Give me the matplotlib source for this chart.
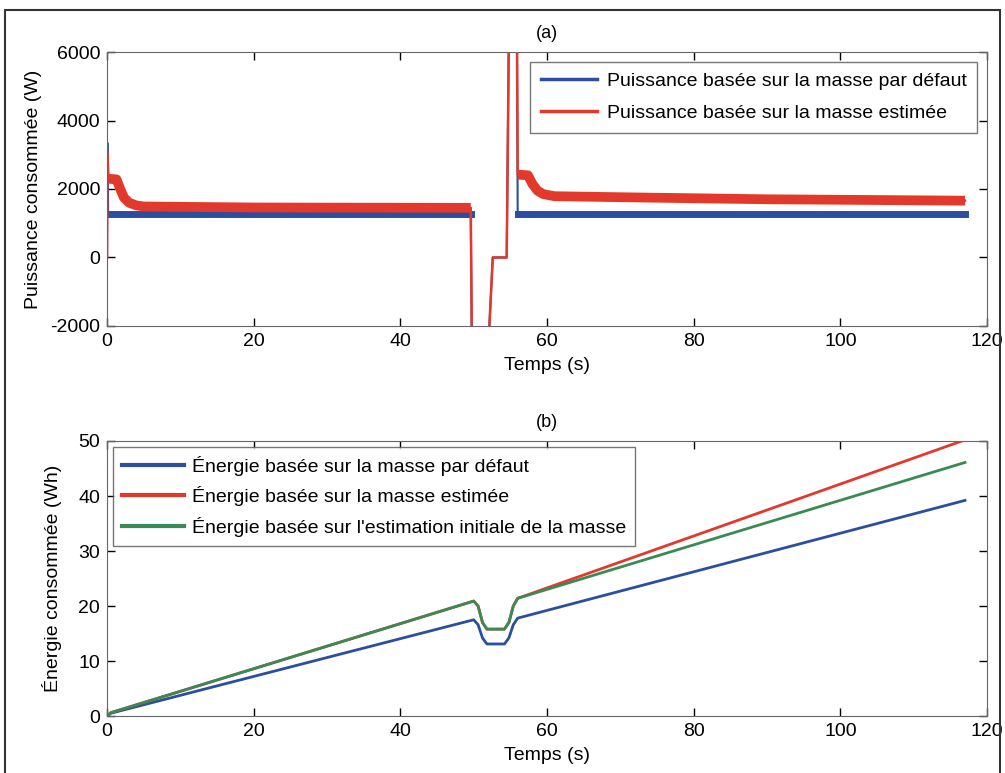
import matplotlib.pyplot as plt
from matplotlib.patches import Rectangle

plt.rcParams['font.family'] = ['Liberation Sans', 'DejaVu Sans']
plt.rcParams['axes.unicode_minus'] = False

# (a) puissance - masse par défaut
t_p_def = [0, 0.05, 0.15, 0.3, 49.6, 49.75, 52.0, 52.6, 54.5, 54.8, 55.9, 56.0, 117]
p_def = [0, 3350, 1280, 1280, 1280, -2600, -2600, 0, 0, 6600, 6600, 1280, 1280]

# (a) puissance - masse estimée
t_p_est = [0, 0.05, 0.2, 1.3, 1.8, 2.3, 3.0, 4.0, 5.0, 20, 49.6, 49.75, 52.0, 52.6,
           54.5, 54.8, 55.9, 56.0, 57.4, 58.0, 58.7, 59.5, 61.0, 70, 90, 117]
p_est = [0, 3050, 2300, 2280, 2000, 1750, 1600, 1520, 1490, 1460, 1450, -2600, -2600, 0,
         0, 6600, 6600, 2420, 2400, 2150, 1950, 1850, 1790, 1760, 1700, 1660]

# (b) énergie
t_e = [0, 0.5, 50, 50.6, 51.2, 51.8, 54.2, 54.8, 55.4, 56, 117]
e_def = [0, 0.5, 17.5, 16.6, 14.2, 13.1, 13.1, 14.2, 16.6, 17.8, 39.2]
e_est = [0, 0.6, 20.9, 20.0, 17.0, 15.8, 15.8, 17.0, 20.0, 21.4, 50.2]
e_init = [0, 0.6, 20.9, 20.0, 17.0, 15.8, 15.8, 17.0, 20.0, 21.4, 46.1]

blue = '#2b4f9e'
red = '#e2392c'
green = '#3a8a55'

fig = plt.figure(figsize=(10.05, 7.73), dpi=100)

ax1 = fig.add_axes([0.1065, 0.5783, 0.8756, 0.3544])
ax2 = fig.add_axes([0.1065, 0.0737, 0.8756, 0.3558])

# panneau (a)
i0 = t_p_def.index(0.3)
i1 = t_p_def.index(49.6)
ax1.plot(t_p_def, p_def, color=blue, lw=1.5, label='Puissance basée sur la masse par défaut')
ax1.plot(t_p_def[i0:i1 + 1], p_def[i0:i1 + 1], color=blue, lw=5)
ax1.plot(t_p_def[-2:], p_def[-2:], color=blue, lw=5)

j0 = t_p_est.index(0.2)
j1 = t_p_est.index(49.6)
j2 = t_p_est.index(56.0)
ax1.plot(t_p_est, p_est, color=red, lw=1.8, label='Puissance basée sur la masse estimée')
ax1.plot(t_p_est[j0:j1 + 1], p_est[j0:j1 + 1], color=red, lw=7,
         solid_joinstyle='round', solid_capstyle='butt')
ax1.plot(t_p_est[j2:], p_est[j2:], color=red, lw=7,
         solid_joinstyle='round', solid_capstyle='butt')

ax1.set_xlim(0, 120)
ax1.set_ylim(-2000, 6000)
ax1.set_xticks(range(0, 121, 20))
ax1.set_yticks(range(-2000, 6001, 2000))
ax1.set_xlabel('Temps (s)', fontsize=14, labelpad=5)
ax1.set_ylabel('Puissance consommée (W)', fontsize=14, labelpad=6)
ax1.set_title('(a)', fontsize=13, pad=10)
leg1 = ax1.legend(loc='upper right', fontsize=14, frameon=True, fancybox=False,
                  edgecolor='#555555', handlelength=2.9, handletextpad=0.5,
                  borderaxespad=0.5, labelspacing=0.75, borderpad=0.55)
for l in leg1.get_lines():
    l.set_linewidth(2.5)

# panneau (b)
ax2.plot(t_e, e_def, color=blue, lw=2, label='Énergie basée sur la masse par défaut')
ax2.plot(t_e, e_est, color=red, lw=2, label='Énergie basée sur la masse estimée')
ax2.plot(t_e, e_init, color=green, lw=2,
         label="Énergie basée sur l'estimation initiale de la masse")
ax2.set_xlim(0, 120)
ax2.set_ylim(0, 50)
ax2.set_xticks(range(0, 121, 20))
ax2.set_yticks(range(0, 51, 10))
ax2.set_xlabel('Temps (s)', fontsize=14, labelpad=5)
ax2.set_ylabel('Énergie consommée (Wh)', fontsize=14, labelpad=12)
ax2.set_title('(b)', fontsize=13, pad=10)
leg2 = ax2.legend(loc='upper left', fontsize=14, frameon=True, fancybox=False,
                  edgecolor='#555555', handlelength=3.2, handletextpad=0.4,
                  borderaxespad=0.3, labelspacing=0.55, borderpad=0.45)
for l in leg2.get_lines():
    l.set_linewidth(3)

for ax in (ax1, ax2):
    ax.tick_params(direction='in', top=True, right=True, labelsize=14, length=6,
                   width=1, pad=5)
    for s in ax.spines.values():
        s.set_color('#666666')

# cadre de la figure
fig.patches.append(Rectangle((0.005, -0.01), 0.99, 0.997, transform=fig.transFigure,
                             fill=False, edgecolor='#333333', lw=1.5))

plt.savefig('out.png', dpi=100)
